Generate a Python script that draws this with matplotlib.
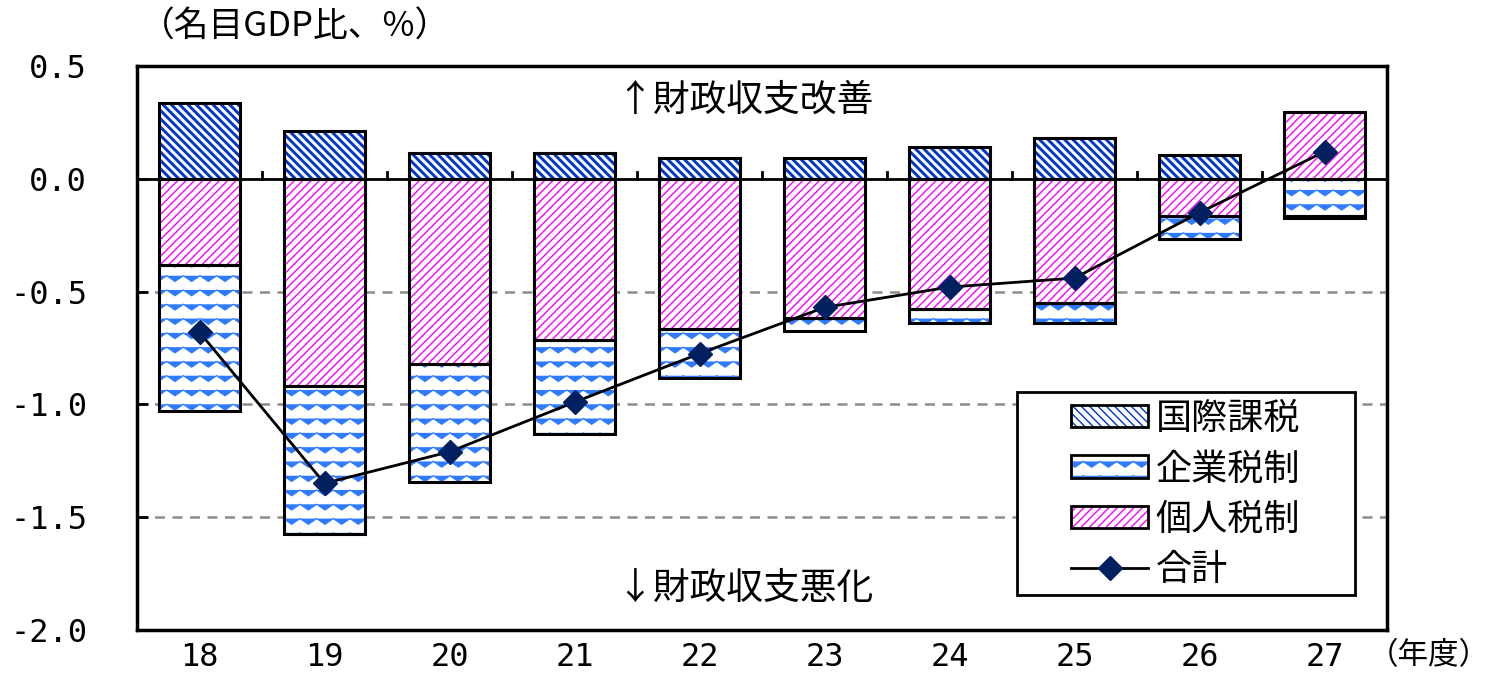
import warnings
warnings.filterwarnings("ignore")
import numpy as np
import matplotlib
matplotlib.use("Agg")
import matplotlib.pyplot as plt
import matplotlib.hatch as mhatch
from matplotlib.path import Path
from matplotlib.patches import Patch, Rectangle
from matplotlib.lines import Line2D
from matplotlib.legend_handler import HandlerTuple

plt.rcParams['font.family'] = ['Noto Sans CJK JP', 'DejaVu Sans']

# ---- data ----
years = ['18', '19', '20', '21', '22', '23', '24', '25', '26', '27']
intl = [0.335, 0.21, 0.115, 0.115, 0.093, 0.093, 0.14, 0.18, 0.105, -0.01]
corp = [-0.65, -0.655, -0.525, -0.415, -0.22, -0.06, -0.065, -0.087, -0.10, -0.165]
pers = [-0.38, -0.92, -0.82, -0.715, -0.665, -0.615, -0.575, -0.55, -0.165, 0.295]
total = [-0.68, -1.35, -1.21, -0.99, -0.775, -0.57, -0.48, -0.44, -0.15, 0.12]

series_names = ['国際課税', '企業税制', '個人税制']
total_name = '合計'
yticks = [0.5, 0.0, -0.5, -1.0, -1.5, -2.0]


# ---- custom wavy hatch ('~') ----
class WaveHatch(mhatch.HatchPatternBase):
    def __init__(self, hatch, density):
        self.num_rows = int(hatch.count('~') * density * 0.6)
        self.npts = 13
        self.num_vertices = self.num_rows * self.npts

    def set_vertices_and_codes(self, vertices, codes):
        steps, stepsize = np.linspace(0.0, 1.0, self.num_rows, False, retstep=True)
        steps += stepsize / 2.0
        xs = np.linspace(0.0, 1.0, self.npts)
        amp = stepsize * 0.2
        ys_off = np.array([amp if i % 2 == 0 else -amp for i in range(self.npts)])
        for r, y in enumerate(steps):
            sl = slice(r * self.npts, (r + 1) * self.npts)
            vertices[sl, 0] = xs
            vertices[sl, 1] = y + ys_off
            codes[sl] = Path.LINETO
            codes[r * self.npts] = Path.MOVETO


mhatch._hatch_types.append(WaveHatch)
try:
    mhatch._validate_hatch_pattern = lambda h: None
except Exception:
    pass

styles = [
    dict(hatch='\\\\\\\\', color='#0036C8', hlw=2.1),
    dict(hatch='~~', color='#2E7BFF', hlw=0.9),
    dict(hatch='////', color='#FF00FF', hlw=1.0),
]


def with_hatch_lw(artist, lw):
    if hasattr(artist, '_hatch_linewidth'):
        artist._hatch_linewidth = lw
    orig = artist.draw

    def draw(renderer, _orig=orig, _lw=lw):
        with plt.rc_context({'hatch.linewidth': _lw}):
            _orig(renderer)
    artist.draw = draw
    return artist


fig = plt.figure(figsize=(14.9, 6.73), dpi=100)
ax = fig.add_axes([137 / 1490, 43 / 673, 1250 / 1490, 564 / 673])

x = np.arange(len(years))
width = 0.645

data = [np.array(intl), np.array(corp), np.array(pers)]
pos_base = np.zeros(len(years))
neg_base = np.zeros(len(years))
order = [2, 1, 0]
bottoms = [None] * 3
for k in order:
    v = data[k]
    b = np.where(v >= 0, pos_base, neg_base)
    bottoms[k] = b
    pos_base = pos_base + np.where(v >= 0, v, 0)
    neg_base = neg_base + np.where(v < 0, v, 0)

for k in order:
    st = styles[k]
    bars = ax.bar(x, data[k], width, bottom=bottoms[k], color='white',
                  edgecolor=st['color'], hatch=st['hatch'], linewidth=0, zorder=2)
    for p in bars:
        with_hatch_lw(p, st['hlw'])
    ax.bar(x, data[k], width, bottom=bottoms[k], fill=False,
           edgecolor='black', linewidth=2.2, zorder=3)

ax.plot(x, total, color='black', linewidth=2, marker='D', markersize=12,
        markerfacecolor='#002060', markeredgecolor='#002060', zorder=5)

ax.axhline(0, color='black', linewidth=2, zorder=4)
for b in np.arange(len(years) - 1) + 0.5:
    ax.plot([b, b], [0, 0.03], color='black', linewidth=2, zorder=4)

for yv in [-0.5, -1.0, -1.5]:
    ax.axhline(yv, color='#8C8C8C', linewidth=1.8, linestyle=(0, (4, 3)), zorder=1)

mono = ['DejaVu Sans Mono']
ax.set_xlim(-0.5, len(years) - 0.5)
ax.set_ylim(-2.0, 0.5)
ax.set_yticks(yticks)
ax.set_yticklabels([f'{v:.1f}' for v in yticks], fontsize=23, family=mono)
ax.set_xticks(x)
ax.set_xticklabels(years, fontsize=23, family=mono)
ax.tick_params(axis='y', direction='in', length=8, width=2, pad=36)
ax.tick_params(axis='x', length=0, pad=9)
for sp in ax.spines.values():
    sp.set_linewidth(2.5)

ax.text(0.486, 0.94, '↑財政収支改善', transform=ax.transAxes, ha='center',
        va='center', fontsize=26.5)
ax.text(0.486, 0.074, '↓財政収支悪化', transform=ax.transAxes, ha='center',
        va='center', fontsize=26.5)
fig.text(140 / 1490, 1 - 27 / 673, '（名目GDP比、%）', ha='left', va='center', fontsize=25)
fig.text(1368 / 1490, 1 - 656 / 673, '（年度）', ha='left', va='center', fontsize=22)

handles = []
for k in range(3):
    st = styles[k]
    h1 = Patch(facecolor='white', edgecolor=st['color'], hatch=st['hatch'], linewidth=0)
    with_hatch_lw(h1, st['hlw'])
    h2 = Patch(fill=False, edgecolor='black', linewidth=2)
    handles.append((h1, h2))
line_h = Line2D([], [], color='black', linewidth=2, marker='D', markersize=12,
                markerfacecolor='#002060', markeredgecolor='#002060')
handles.append(line_h)

# legend frame (drawn separately to allow wide side padding)
fx0, fx1, fy0, fy1 = 0.704, 0.9744, 0.062, 0.422
ax.add_patch(Rectangle((fx0, fy0), fx1 - fx0, fy1 - fy0, transform=ax.transAxes,
                       facecolor='white', edgecolor='black', linewidth=2, zorder=6))
leg = ax.legend(handles, series_names + [total_name],
                handler_map={tuple: HandlerTuple(ndivide=1, pad=0)},
                loc='upper left', bbox_to_anchor=(0.747, 0.406), fontsize=26,
                frameon=False, handlelength=2.15, handleheight=0.58, borderpad=0,
                labelspacing=0.40, handletextpad=0.2, borderaxespad=0)
leg.set_zorder(7)

fig.savefig('out.png', dpi=100)
